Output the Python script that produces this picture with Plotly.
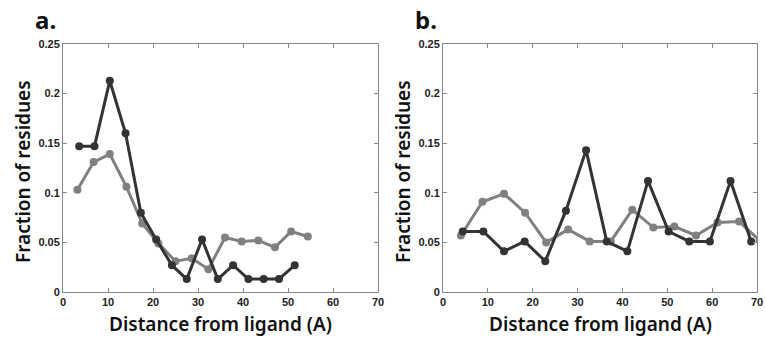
import plotly.graph_objects as go

# Panel a
a_dark_x = [3.6, 7.0, 10.4, 13.9, 17.3, 20.7, 24.2, 27.5, 30.9, 34.4, 37.8, 41.2, 44.6, 48.0, 51.5]
a_dark_y = [0.147, 0.147, 0.213, 0.160, 0.080, 0.053, 0.027, 0.013, 0.053, 0.013, 0.027, 0.013, 0.013, 0.013, 0.027]
a_gray_x = [3.2, 6.8, 10.4, 14.1, 17.6, 21.2, 25.0, 28.6, 32.3, 36.0, 39.7, 43.4, 47.1, 50.7, 54.4]
a_gray_y = [0.103, 0.131, 0.139, 0.106, 0.069, 0.049, 0.031, 0.034, 0.023, 0.055, 0.051, 0.052, 0.045, 0.061, 0.056]

# Panel b
b_dark_x = [4.4, 9.0, 13.6, 18.2, 22.8, 27.4, 31.9, 36.5, 41.1, 45.7, 50.3, 54.9, 59.5, 64.1, 68.7]
b_dark_y = [0.061, 0.061, 0.041, 0.051, 0.031, 0.082, 0.143, 0.051, 0.041, 0.112, 0.061, 0.051, 0.051, 0.112, 0.051]
b_gray_x = [4.0, 8.8, 13.6, 18.3, 23.0, 27.9, 32.7, 37.4, 42.2, 46.9, 51.6, 56.4, 61.2, 66.0, 70.6]
b_gray_y = [0.057, 0.091, 0.099, 0.080, 0.050, 0.063, 0.051, 0.051, 0.083, 0.065, 0.066, 0.057, 0.070, 0.071, 0.052]

x_ticks = [0, 10, 20, 30, 40, 50, 60, 70]
y_ticks = [0, 0.05, 0.1, 0.15, 0.2, 0.25]
y_tick_labels = ["0", "0.05", "0.1", "0.15", "0.2", "0.25"]
panel_labels = ["a.", "b."]
x_title = "Distance from ligand (A)"
y_title = "Fraction of residues"

DARK = "#333333"
GRAY = "#808080"

fig = go.Figure()

def add_series(x, y, color, xa, ya):
    fig.add_trace(go.Scatter(
        x=x, y=y, mode="lines+markers", xaxis=xa, yaxis=ya,
        line=dict(color=color, width=3),
        marker=dict(color=color, size=8),
        showlegend=False, cliponaxis=True,
    ))

add_series(a_gray_x, a_gray_y, GRAY, "x", "y")
add_series(a_dark_x, a_dark_y, DARK, "x", "y")
add_series(b_gray_x, b_gray_y, GRAY, "x2", "y2")
add_series(b_dark_x, b_dark_y, DARK, "x2", "y2")

W, H = 765, 344
ydom = [1 - 292 / H, 1 - 44 / H]
xdomA = [63 / W, 378 / W]
xdomB = [443 / W, 757 / W]

tickfont = dict(family="Liberation Sans", size=11, color="#222222", weight="bold")

def xaxis(dom, anchor):
    return dict(domain=dom, anchor=anchor, range=[0, 70], tickvals=x_ticks,
                ticks="inside", ticklen=4, tickcolor="#888888",
                showline=True, linecolor="#888888", linewidth=1, mirror="ticks",
                showgrid=False, zeroline=False, tickfont=tickfont, automargin=False)

def yaxis(anchor):
    return dict(domain=ydom, anchor=anchor, range=[0, 0.25], tickvals=y_ticks,
                ticktext=y_tick_labels,
                ticks="inside", ticklen=4, tickcolor="#888888",
                showline=True, linecolor="#888888", linewidth=1, mirror="ticks",
                showgrid=False, zeroline=False, tickfont=tickfont, automargin=False)

titlefont = dict(family="Noto Sans", size=19, color="#111111", weight=600)
labfont = dict(family="Noto Sans", size=24, color="#111111", weight=700)

annotations = []
for dom, lab in [(xdomA, panel_labels[0]), (xdomB, panel_labels[1])]:
    cx = (dom[0] + dom[1]) / 2
    annotations.append(dict(text=x_title, x=cx, y=1 - 324 / H, xref="paper", yref="paper",
                            showarrow=False, font=titlefont, xanchor="center", yanchor="middle"))
    annotations.append(dict(text=y_title, x=dom[0] - 40 / W, y=1 - 172 / H,
                            xref="paper", yref="paper", textangle=-90,
                            showarrow=False, font=titlefont, xanchor="center", yanchor="middle"))
    annotations.append(dict(text=lab, x=dom[0] - 30 / W, y=1 - 20 / H, xref="paper", yref="paper",
                            showarrow=False, font=labfont, xanchor="left", yanchor="middle"))

fig.update_layout(
    width=W, height=H,
    margin=dict(l=0, r=0, t=0, b=0, autoexpand=False),
    paper_bgcolor="white", plot_bgcolor="white",
    xaxis=xaxis(xdomA, "y"), yaxis=yaxis("x"),
    xaxis2=xaxis(xdomB, "y2"), yaxis2=yaxis("x2"),
    annotations=annotations,
)

fig.write_html(
    "out.html",
    config={"displayModeBar": False},
    post_script="document.body.style.margin='0px';document.body.style.overflow='hidden';",
)
